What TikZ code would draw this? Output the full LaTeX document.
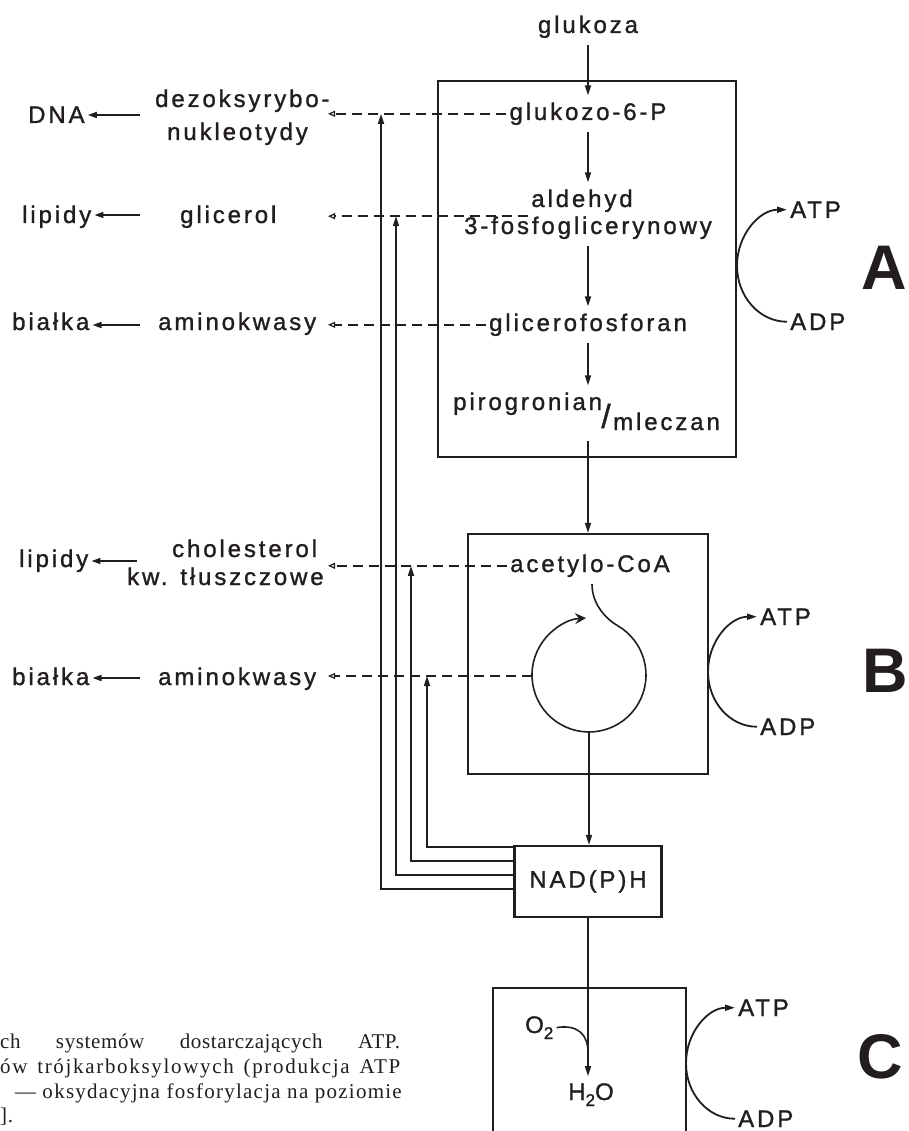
\documentclass[tikz,border=0pt]{standalone}
\usepackage{fontspec}
\newfontfamily\df{Liberation Sans}[LetterSpace=12,FakeBold=1.2]
\newfontfamily\bigf{Liberation Sans}
\newfontfamily\capf{Liberation Serif}[LetterSpace=3]
\usetikzlibrary{arrows.meta}
\definecolor{ink}{RGB}{35,30,30}
\begin{document}
\begin{tikzpicture}[x=1pt,y=-1pt,
  lbl/.style={inner xsep=3pt, inner ysep=7pt, font=\df\fontsize{24}{28}\selectfont, text=ink},
  box/.style={draw=ink, line width=2.2pt, inner sep=0pt},
  arr/.style={draw=ink, line width=1.6pt, -{Triangle[length=10pt,width=6pt]}},
  larr/.style={draw=ink, line width=1.6pt, -{Triangle[length=9pt,width=6pt]}},
  dline/.style={draw=ink, line width=1.5pt, dash pattern=on 10pt off 6pt, -{Triangle[open,length=7pt,width=6pt,line width=1.2pt]}},
  carr/.style={draw=ink, line width=1.8pt, -{Triangle[length=10pt,width=6pt]}},
  ln/.style={draw=ink, line width=1.6pt},
  bigl/.style={inner sep=0pt, font=\bigf\bfseries\fontsize{63}{63}\selectfont, text=ink},
  capt/.style={inner sep=0pt, font=\capf\fontsize{21}{25}\selectfont, text=ink},
]
\useasboundingbox (0,0) rectangle (909,1131);
\fill[white] (0,0) rectangle (909,1131);

% boxes
\node[box, minimum width=298pt, minimum height=376pt] (boxA) at (587,269) {};
\node[box, minimum width=240pt, minimum height=240pt] (boxB) at (588,654) {};
\node[box, minimum width=147pt, minimum height=71pt, font=\df\fontsize{24}{28}\selectfont, text=ink] (nad) at (588,881.5) {NAD(P)H};
\node[box, minimum width=193pt, minimum height=160pt] (boxC) at (589.5,1068) {};

% pathway texts
\node[lbl, anchor=base] (gluk) at (588,33) {glukoza};
\node[lbl, anchor=base] (g6p) at (588,120) {glukozo-6-P};
\node[lbl, anchor=base] (ald) at (582,207) {aldehyd};
\node[lbl, anchor=base] (fosf) at (588,234) {3-fosfoglicerynowy};
\node[lbl, anchor=base] (gfos) at (588,331) {glicerofosforan};
\node[lbl, anchor=base west] (pir) at (450,410) {pirogronian};
\node[lbl, inner sep=0pt, font=\df\fontsize{33}{33}\selectfont] (slash) at (606,416) {/};
\node[lbl, anchor=base west] (mlecz) at (610,430) {mleczan};
\node[lbl, anchor=base] (acoa) at (590,572) {acetylo-CoA};
\node[lbl, anchor=base west] (o2) at (522,1033) {O\raisebox{-6pt}{\fontsize{17}{17}\selectfont 2}};
\node[lbl, anchor=base] (h2o) at (591,1100) {H\raisebox{-6pt}{\fontsize{17}{17}\selectfont 2}O};

% left texts
\node[lbl, anchor=base west] (dna) at (25,123) {DNA};
\node[lbl, anchor=base west] (dezo) at (152,107) {dezoksyrybo-};
\node[lbl, anchor=base west] (nukl) at (164,140) {nukleotydy};
\node[lbl, anchor=base west] (lip1) at (19,223) {lipidy};
\node[lbl, anchor=base west] (glic) at (177,223) {glicerol};
\node[lbl, anchor=base west] (bia1) at (9,330) {białka};
\node[lbl, anchor=base west] (amin1) at (155,330) {aminokwasy};
\node[lbl, anchor=base west] (lip2) at (16,567) {lipidy};
\node[lbl, anchor=base west] (chol) at (169,557) {cholesterol};
\node[lbl, anchor=base west] (kw) at (124,585) {kw. tłuszczowe};
\node[lbl, anchor=base west] (bia2) at (9,685) {białka};
\node[lbl, anchor=base west] (amin2) at (155,685) {aminokwasy};

% ATP / ADP
\node[lbl, anchor=base west] (atpA) at (787,218) {ATP};
\node[lbl, anchor=base west] (adpA) at (787,330) {ADP};
\node[lbl, anchor=base west] (atpB) at (757,625) {ATP};
\node[lbl, anchor=base west] (adpB) at (757,735) {ADP};
\node[lbl, anchor=base west] (atpC) at (735,1016) {ATP};
\node[lbl, anchor=base west] (adpC) at (735,1127) {ADP};
\draw[carr] (adpA.west) arc[start angle=90, end angle=270, x radius=50, y radius=56];
\draw[carr] (adpB.west) arc[start angle=90, end angle=270, x radius=49, y radius=55];
\draw[carr] (adpC.west) arc[start angle=90, end angle=270, x radius=49, y radius=55.5];

% big letters
\node[bigl, anchor=base] (lA) at (884,290) {A};
\node[bigl, anchor=base] (lB) at (885,692) {B};
\node[bigl, anchor=base] (lC) at (880,1078) {C};

% caption fragment
\node[capt, anchor=base west] (cap1) at (0,1048) {\makebox[400pt][s]{ch systemów dostarczających ATP.}};
\node[capt, anchor=base west] (cap2) at (0,1073) {\addfontfeature{LetterSpace=8}\makebox[400pt][s]{ów trójkarboksylowych (produkcja ATP}};
\node[capt, anchor=base east] (cap3) at (402,1098) {\addfontfeature{LetterSpace=6}— oksydacyjna fosforylacja na poziomie};
\node[capt, anchor=base west] (cap4) at (0,1122) {].};

% helper coordinates
\coordinate (dl) at (328,0);
\coordinate (x1) at (381,0);
\coordinate (x2) at (396,0);
\coordinate (x3) at (411,0);
\coordinate (x4) at (427,0);
\coordinate (aldL) at ([yshift=3pt]ald.south west);
\coordinate (cycW) at (532,676);
\coordinate (cycB) at (589,732);
\coordinate (pirout) at (588,441);

% main pathway arrows
\draw[arr] (gluk.south) -- (g6p.north);
\draw[arr] (g6p.south) -- (g6p.south |- ald.north);
\draw[arr] (fosf.south) -- (gfos.north);
\draw[arr] (gfos.south) -- (gfos.south |- pir.north);
\draw[arr] (pirout) -- (boxB.north);
\draw[arr] (cycB) -- (cycB |- nad.north);
\draw[arr] (nad.south) -- (nad.south |- h2o.north);

% Krebs cycle
\draw[ln, -{Stealth[length=11pt,width=11pt,inset=4pt]}] ([xshift=2pt]acoa.south) .. controls (592,605) and (607,619.6) .. (617.5,625.6) arc[start angle=-60, end angle=267, radius=57];

% O2 -> H2O
\draw[ln] (o2.east) .. controls (578,1024) and (588,1035) .. (588,1052);

% dashed side branches
\draw[dline] (g6p.west) -- (g6p.west -| dl);
\draw[dline] (aldL) -- (aldL -| dl);
\draw[dline] (gfos.west) -- (gfos.west -| dl);
\draw[dline] (acoa.west) -- (acoa.west -| dl);
\draw[dline] (cycW) -- (cycW -| dl);

% NAD(P)H feedback lines
\draw[arr] (nad.west |- 0,889) -| (x1 |- g6p.west);
\draw[arr] (nad.west |- 0,875) -| (x2 |- aldL);
\draw[arr] (nad.west |- 0,861) -| (x3 |- acoa.west);
\draw[arr] (nad.west |- 0,847) -| (x4 |- cycW);

% left arrows
\coordinate (t1) at (140,115);
\coordinate (t2) at (140,215);
\coordinate (t3) at (140,325);
\coordinate (t4) at (137,561);
\coordinate (t5) at (140,678);
\draw[larr] (t1) -- (t1 -| dna.east);
\draw[larr] (t2) -- (t2 -| lip1.east);
\draw[larr] (t3) -- (t3 -| bia1.east);
\draw[larr] (t4) -- (t4 -| lip2.east);
\draw[larr] (t5) -- (t5 -| bia2.east);
\end{tikzpicture}
\end{document}
